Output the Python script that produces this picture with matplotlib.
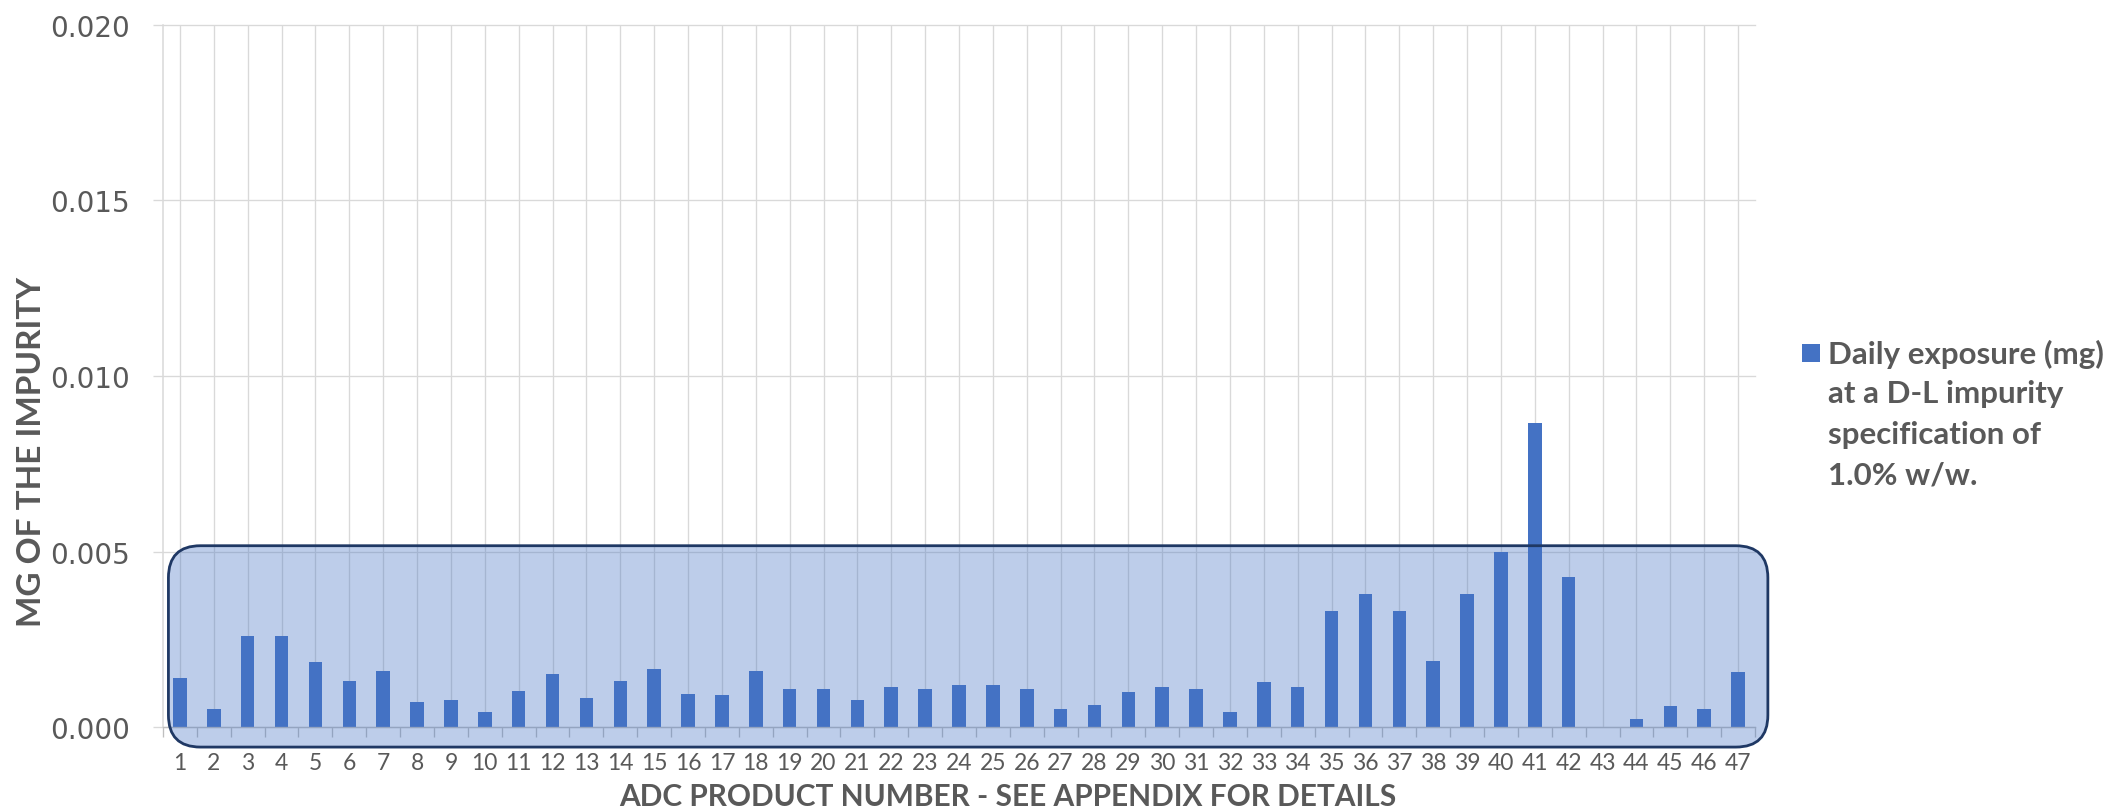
import matplotlib
matplotlib.use("Agg")
import matplotlib.pyplot as plt
from matplotlib import font_manager
from matplotlib.patches import FancyBboxPatch, Rectangle
from matplotlib.transforms import IdentityTransform
from matplotlib.ticker import FixedLocator

# ---- data -------------------------------------------------------------
products = list(range(1, 48))
daily_exposure_mg = [
    0.00142, 0.00053, 0.00261, 0.00261, 0.00185, 0.00133, 0.00161, 0.00072, 0.00077, 0.00044,
    0.00105, 0.00152, 0.00085, 0.00133, 0.00166, 0.00096, 0.00091, 0.00161, 0.00110, 0.00110,
    0.00077, 0.00115, 0.00110, 0.00120, 0.00120, 0.00110, 0.00053, 0.00063, 0.00101, 0.00115,
    0.00110, 0.00044, 0.00129, 0.00115, 0.00332, 0.00379, 0.00332, 0.00190, 0.00379, 0.00498,
    0.00865, 0.00427, 0.00000, 0.00024, 0.00062, 0.00052, 0.00157,
]
y_ticks = [0.000, 0.005, 0.010, 0.015, 0.020]
y_tick_labels = ["0.000", "0.005", "0.010", "0.015", "0.020"]
legend_lines = ["Daily exposure (mg)", "at a D-L impurity", "specification of", "1.0% w/w."]
x_title = "ADC PRODUCT NUMBER - SEE APPENDIX FOR DETAILS"
y_title = "MG OF THE IMPURITY"

# highlighted band (data units): products ~1..47, values up to ~0.005
band_x = (0.66, 47.88)
band_y = (-0.00056, 0.00517)


def pick_font(candidates):
    for name in candidates:
        try:
            font_manager.findfont(font_manager.FontProperties(family=name),
                                  fallback_to_default=False)
            return name
        except ValueError:
            continue
    return "DejaVu Sans"


body = pick_font(["Lato", "Open Sans", "Noto Sans"])

TEXT = "#595959"
GRID = "#D9D9D9"
BAR = "#4472C4"

W, H, DPI = 2123, 812, 100
fig = plt.figure(figsize=(W / DPI, H / DPI), dpi=DPI)

left_px, right_px, top_px, base_px = 163, 1755, 25.6, 728.4
ax = fig.add_axes([left_px / W, 1 - base_px / H,
                   (right_px - left_px) / W, (base_px - top_px) / H])

ax.bar(products, daily_exposure_mg, width=0.4, color=BAR, zorder=2)

ax.set_xlim(0.5, 47.5)
ax.set_ylim(0, 0.020)

# value axis
ax.set_yticks(y_ticks)
ax.set_yticklabels(y_tick_labels, family="DejaVu Sans", fontsize=20, color=TEXT)
ax.tick_params(axis="y", length=7.2, width=0.95, color=GRID, pad=16.5)

# category axis: labels and gridlines on the products, tick marks between them
ax.set_xticks(products)
ax.set_xticklabels([str(p) for p in products], family=body, fontsize=16.5, color=TEXT)
ax.tick_params(axis="x", which="major", length=0, pad=18)
ax.xaxis.set_minor_locator(FixedLocator([p - 0.5 for p in products] + [products[-1] + 0.5]))
ax.tick_params(axis="x", which="minor", length=7.2, width=0.95, color="#BFBFBF")

ax.grid(True, which="major", axis="both", color=GRID, linewidth=0.95)
ax.set_axisbelow(True)
for gl in ax.get_ygridlines():
    gl.set_clip_on(False)

for side in ("top", "right"):
    ax.spines[side].set_visible(False)
ax.spines["left"].set_color(GRID)
ax.spines["left"].set_linewidth(1.1)
ax.spines["bottom"].set_color("#BFBFBF")
ax.spines["bottom"].set_linewidth(0.95)

# rounded highlight band drawn in pixel space so the corners stay circular
(x0, y0) = ax.transData.transform((band_x[0], band_y[0]))
(x1, y1) = ax.transData.transform((band_x[1], band_y[1]))
r = 32
band = FancyBboxPatch((x0 + r, y0 + r), (x1 - x0) - 2 * r, (y1 - y0) - 2 * r,
                      boxstyle=f"round,pad={r}", transform=IdentityTransform(),
                      facecolor=(0x44 / 255, 0x72 / 255, 0xC4 / 255, 0.35),
                      edgecolor="#1F3864", linewidth=2.0, zorder=3, clip_on=False)
ax.add_patch(band)

# axis titles
fig.text(1008 / W, 1 - 797 / H, x_title, family=body, weight="bold",
         fontsize=21.5, color=TEXT, ha="center", va="center")
fig.text(32 / W, 1 - 452 / H, y_title, family=body, weight="bold",
         fontsize=24, color=TEXT, ha="center", va="center", rotation=90)

# legend
sq = 18
fig.patches.append(Rectangle((1802 / W, 1 - (354 + sq / 2) / H), sq / W, sq / H,
                             transform=fig.transFigure, facecolor=BAR,
                             edgecolor="none", figure=fig))
for i, line in enumerate(legend_lines):
    fig.text(1828 / W, 1 - (354 + i * 40.5) / H, line, family=body, weight="bold",
             fontsize=22.5, color=TEXT, ha="left", va="center")

fig.savefig("out.png", dpi=DPI, facecolor="white")
